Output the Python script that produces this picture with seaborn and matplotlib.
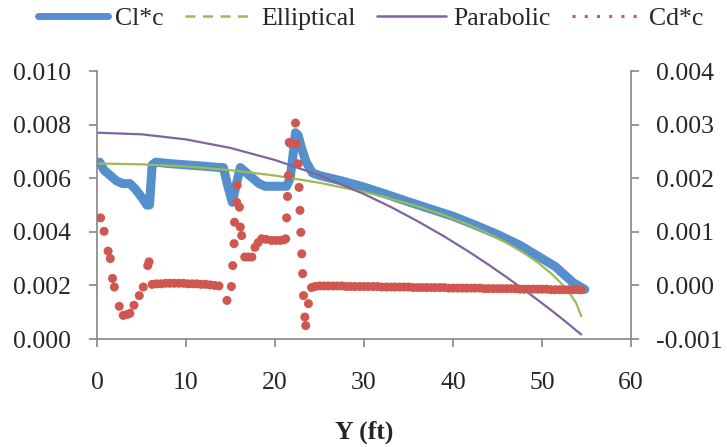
import numpy as np
import pandas as pd
import matplotlib
matplotlib.use("Agg")
import matplotlib.pyplot as plt
from matplotlib.lines import Line2D
import seaborn as sns

# spanwise station (ft) and section lift * chord
span_cl = [0.0, 0.3, 0.8, 1.5, 2.2, 2.9, 3.7, 4.3, 5.0, 5.6, 5.9, 6.2, 6.6, 8.0,
           10.0, 12.0, 13.8, 14.2, 14.7, 15.2, 15.6, 16.1, 16.8, 17.5, 18.2, 18.9,
           20.0, 21.3, 21.7, 22.0, 22.3, 22.6, 23.0, 23.5, 24.2, 25.0, 27.5, 30.0,
           32.5, 35.0, 37.5, 40.0, 42.5, 45.0, 47.5, 50.0, 51.5, 52.5, 53.5,
           54.3, 54.8]
cl_c = [0.0066, 0.0066, 0.0063, 0.0061, 0.0059, 0.0058, 0.0058, 0.0056, 0.0053,
        0.0050, 0.0050, 0.0065, 0.0066, 0.00655, 0.0065, 0.00645, 0.0064, 0.0064,
        0.0057, 0.0051, 0.0057, 0.0064, 0.0062, 0.0060, 0.0058, 0.0057, 0.0057,
        0.0057, 0.0060, 0.0068, 0.0077, 0.0076, 0.0071, 0.0066, 0.0062, 0.0061,
        0.0059, 0.00567, 0.0054, 0.00512, 0.00485, 0.00458, 0.00425, 0.0039,
        0.0035, 0.0030, 0.0027, 0.0024, 0.0021, 0.00195, 0.00185]

# reference distributions
span_ref = [0, 5, 10, 15, 20, 25, 30, 33, 36, 39, 42, 44, 46, 48, 49.5, 51, 52,
            53, 53.8, 54.4]
elliptical = [0.00655, 0.00652, 0.00644, 0.00630, 0.00610, 0.00583, 0.00549,
              0.00524, 0.00495, 0.00462, 0.00423, 0.00393, 0.00359, 0.00320,
              0.00286, 0.00245, 0.00213, 0.00175, 0.00136, 0.00085]
parabolic = [0.00770, 0.00764, 0.00745, 0.00713, 0.00668, 0.00611, 0.00541,
             0.00493, 0.00440, 0.00383, 0.00321, 0.00277, 0.00231, 0.00183,
             0.00146, 0.00108, 0.00082, 0.00055, 0.00033, 0.00017]

# section drag * chord (secondary axis)
span_cd = [0.4, 0.8, 1.25, 1.5, 1.75, 1.95, 2.5, 2.95, 3.4, 3.7, 4.15, 4.75, 5.2,
           5.7, 5.85,
           6.2, 6.7, 7.2, 7.7, 8.2, 8.7, 9.2, 9.7, 10.2, 10.7, 11.2, 11.7, 12.2,
           12.7, 13.2, 13.7,
           14.6, 15.1, 15.25, 15.4, 15.45, 15.7, 15.75, 16.0, 16.1, 16.25, 16.6,
           17.0, 17.4, 17.75, 18.1, 18.5, 19.0, 19.6, 20.1, 20.6, 21.0, 21.2,
           21.3, 21.4, 21.5, 21.6, 21.7, 22.3, 22.4, 22.6, 22.7, 22.8, 22.9,
           23.0, 23.1, 23.2, 23.35, 23.45, 23.75,
           24.1, 24.5, 25.0, 25.5, 26.0, 26.5, 27.0, 27.5, 28.0, 28.5, 29.0,
           29.5, 30.0, 30.5, 31.0, 31.5, 32.0, 32.5, 33.0, 33.5, 34.0, 34.5,
           35.0, 35.5, 36.0, 36.5, 37.0, 37.5, 38.0, 38.5, 39.0, 39.5, 40.0,
           40.5, 41.0, 41.5, 42.0, 42.5, 43.0, 43.5, 44.0, 44.5, 45.0, 45.5,
           46.0, 46.5, 47.0, 47.5, 48.0, 48.5, 49.0, 49.5, 50.0, 50.5, 51.0,
           51.5, 52.0, 52.5, 53.0, 53.5, 54.0, 54.4]
cd_c = [0.00126, 0.00101, 0.00064, 0.00050, 0.00013, -0.00003, -0.00039,
        -0.00056, -0.00054, -0.00052, -0.00037, -0.00019, -0.00003, 0.00037,
        0.00044,
        0.00002, 0.00003, 0.00003, 0.00004, 0.00004, 0.00004, 0.00004, 0.00004,
        0.00003, 0.00003, 0.00003, 0.00002, 0.00002, 0.00001, 0.00000, -0.00001,
        -0.00028, -0.00002, 0.00037, 0.00078, 0.00118, 0.00155, 0.00187,
        0.00146, 0.00109, 0.00093, 0.00053, 0.00053, 0.00053, 0.00071, 0.00080,
        0.00087, 0.00086, 0.00084, 0.00084, 0.00084, 0.00085, 0.00087, 0.00126,
        0.00166, 0.00205, 0.00267, 0.00265, 0.00303, 0.00264, 0.00227, 0.00183,
        0.00140, 0.00099, 0.00059, 0.00022, -0.00019, -0.00059, -0.00075,
        -0.00034,
        -0.00004, -0.00002, -0.00001, -0.00001, -0.00001, -0.00001, -0.00001,
        -0.00001, -0.00002, -0.00002, -0.00002, -0.00002, -0.00002, -0.00002,
        -0.00002, -0.00002, -0.00003, -0.00003, -0.00003, -0.00003, -0.00003,
        -0.00003, -0.00003, -0.00004, -0.00004, -0.00004, -0.00004, -0.00004,
        -0.00004, -0.00004, -0.00004, -0.00005, -0.00005, -0.00005, -0.00005,
        -0.00005, -0.00005, -0.00005, -0.00005, -0.00006, -0.00006, -0.00006,
        -0.00006, -0.00006, -0.00006, -0.00006, -0.00006, -0.00007, -0.00007,
        -0.00007, -0.00007, -0.00007, -0.00007, -0.00007, -0.00008, -0.00008,
        -0.00008, -0.00008, -0.00008, -0.00008, -0.00008, -0.00008]

BLUE = "#5590CC"
GREEN = "#9BBB59"
PURPLE = "#8064A2"
RED = "#D0574F"
AXIS = "#868686"

sns.set_style("white")
plt.rcParams["font.family"] = ["Liberation Serif", "DejaVu Serif"]
plt.rcParams["axes.unicode_minus"] = False

fig = plt.figure(figsize=(7.27, 4.47), dpi=100)
ax = fig.add_axes([0.1334, 0.2416, 0.8681 - 0.1334, 0.841 - 0.2416])
ax2 = ax.twinx()

sns.lineplot(x=span_cl, y=cl_c, ax=ax, color=BLUE, lw=6.5, estimator=None,
             sort=False, solid_capstyle="round", solid_joinstyle="round")
sns.lineplot(x=span_ref, y=elliptical, ax=ax, color=GREEN, lw=1.6, estimator=None)
sns.lineplot(x=span_ref, y=parabolic, ax=ax, color=PURPLE, lw=1.6, estimator=None)
sns.scatterplot(x=span_cd, y=cd_c, ax=ax2, color=RED, s=42, edgecolor="none")

ax.set_xlim(0, 60)
ax.set_ylim(0, 0.010)
ax2.set_ylim(-0.001, 0.004)
ax.set_xticks(range(0, 61, 10))
ax.set_yticks(np.arange(0, 0.0101, 0.002))
ax2.set_yticks(np.arange(-0.001, 0.00401, 0.001))
ax.yaxis.set_major_formatter(matplotlib.ticker.FormatStrFormatter("%.3f"))
ax2.yaxis.set_major_formatter(matplotlib.ticker.FormatStrFormatter("%.3f"))

for a in (ax, ax2):
    a.spines["top"].set_visible(False)
    for s in a.spines.values():
        s.set_color(AXIS)
        s.set_linewidth(1.2)
ax.spines["right"].set_visible(False)
ax2.spines["left"].set_visible(False)
ax2.spines["bottom"].set_visible(False)

ax.tick_params(axis="y", direction="out", length=6, width=1.2, color=AXIS,
               labelsize=18.5, pad=13, left=True)
ax.tick_params(axis="x", direction="out", length=6, width=1.2, color=AXIS,
               labelsize=18.5, pad=18, bottom=True)
ax2.tick_params(axis="y", direction="out", length=6, width=1.2, color=AXIS,
                labelsize=18.5, pad=12, right=True)

ax.set_xlabel("Y (ft)", fontsize=18.5, fontweight="bold", labelpad=19)
ax.set_ylabel("")
ax2.set_ylabel("")

handles = [
    Line2D([], [], color=BLUE, lw=5, solid_capstyle="round"),
    Line2D([], [], color=GREEN, lw=1.8, ls=(0, (4, 3))),
    Line2D([], [], color=PURPLE, lw=1.8),
    Line2D([], [], color=RED, lw=2.2, ls=(0, (1, 3))),
]
fig.legend(handles, ["Cl*c", "Elliptical", "Parabolic", "Cd*c"], ncol=4,
           loc="upper center", bbox_to_anchor=(0.51, 1.035), frameon=False,
           fontsize=18.5, handlelength=2.7, handletextpad=0.3,
           columnspacing=0.8)

fig.savefig("out.png", dpi=100)
plt.close(fig)
